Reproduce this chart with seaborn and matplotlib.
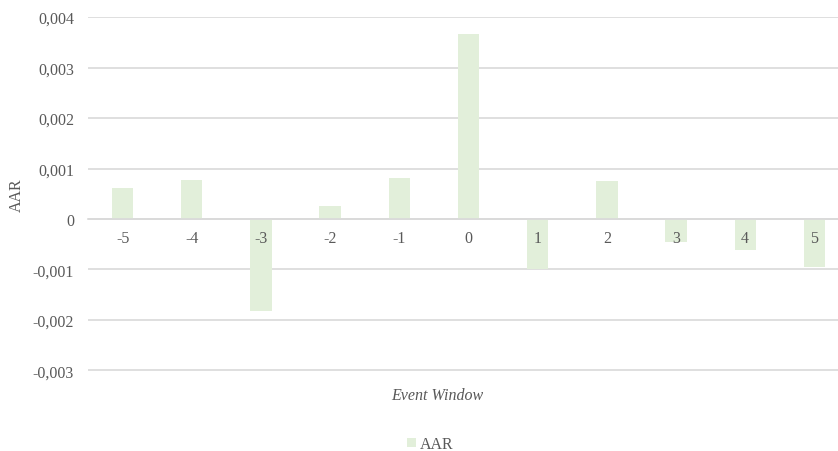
import matplotlib
matplotlib.use("Agg")
import matplotlib.pyplot as plt
from matplotlib.patches import Patch
import seaborn as sns
import pandas as pd

# Average abnormal returns around the event day
event_days = ["-5", "-4", "-3", "-2", "-1", "0", "1", "2", "3", "4", "5"]
aar_values = [0.00061, 0.00077, -0.00183, 0.00026, 0.00081, 0.00366,
              -0.00100, 0.00075, -0.00045, -0.00062, -0.00096]
y_ticks = [-0.003, -0.002, -0.001, 0, 0.001, 0.002, 0.003, 0.004]
y_tick_labels = ["-0,003", "-0,002", "-0,001", "0", "0,001", "0,002", "0,003", "0,004"]

BAR_COLOR = "#e2efda"
TEXT_COLOR = "#595959"
GRID_COLOR = "#d9d9d9"
FS = 11.5

sns.set_theme(style="white")
plt.rcParams["font.family"] = ["Liberation Serif", "DejaVu Serif"]

df = pd.DataFrame({"Event Window": event_days, "AAR": aar_values})

fig = plt.figure(figsize=(8.38, 4.52), dpi=100)
W, H = 838, 452
ax = fig.add_axes([88 / W, 1 - 372 / H, 761 / W, 354.5 / H])

sns.barplot(data=df, x="Event Window", y="AAR", order=event_days,
            color=BAR_COLOR, saturation=1, width=0.31, ax=ax, zorder=2)
for p in ax.patches:
    p.set_edgecolor("none")

ax.set_ylim(-0.00301, 0.00401)
ax.set_yticks(y_ticks)
ax.set_yticklabels(y_tick_labels)
ax.grid(axis="y", color=GRID_COLOR, lw=1.2, zorder=0)
ax.grid(axis="x", visible=False)
ax.set_axisbelow(True)
ax.xaxis.set_zorder(5)

for side in ("top", "right", "left"):
    ax.spines[side].set_visible(False)
ax.spines["bottom"].set_position(("data", 0))
ax.spines["bottom"].set_color(GRID_COLOR)
ax.spines["bottom"].set_linewidth(1.2)
ax.spines["bottom"].set_zorder(3)

ax.tick_params(axis="x", length=0, pad=8, labelsize=FS, labelcolor=TEXT_COLOR)
ax.tick_params(axis="y", length=0, pad=10, labelsize=FS, labelcolor=TEXT_COLOR)

ax.set_xlabel("")
ax.set_ylabel("")
fig.text(17 / W, 1 - 195 / H, "AAR", rotation=90, ha="center", va="center",
         fontsize=FS, color=TEXT_COLOR)
fig.text(437 / W, 1 - 396 / H, "Event Window", ha="center", va="center",
         fontsize=FS, style="italic", color=TEXT_COLOR)

handle = Patch(facecolor=BAR_COLOR, edgecolor="none", label="AAR")
fig.legend(handles=[handle], loc="center", bbox_to_anchor=(430 / W, 1 - 445 / H),
           frameon=False, fontsize=FS, handlelength=0.55, handleheight=0.55,
           handletextpad=0.25, labelcolor=TEXT_COLOR, borderpad=0)

fig.savefig("out.png", dpi=100)
